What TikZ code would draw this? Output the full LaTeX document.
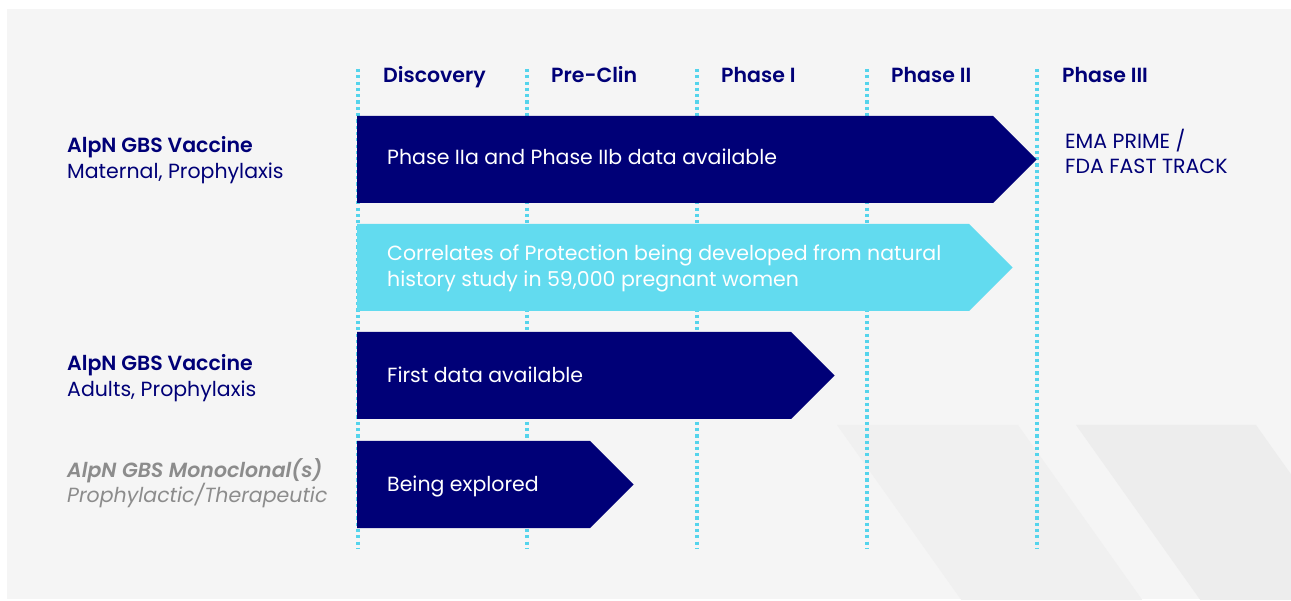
\documentclass[tikz,border=0pt]{standalone}
\usepackage{fontspec}
\setmainfont{Poppins}[BoldFont={Poppins SemiBold},BoldItalicFont={Poppins SemiBold Italic}]
\definecolor{navy}{HTML}{000077}
\definecolor{sky}{HTML}{62DBEF}
\definecolor{panel}{HTML}{F5F5F5}
\definecolor{shadeA}{HTML}{F0F0F0}
\definecolor{shadeB}{HTML}{EDEDED}
\definecolor{dotline}{HTML}{55D4EC}
\definecolor{mutegray}{HTML}{8C8C8C}
% pipeline bar with a pointed end: fill, left x, right x of body, top, bottom
\newcommand\arrowbar[5]{%
  \fill[#1] (#2,#4) -- (#3,#4) -- ({#3+(#5-#4)/2},{(#4+#5)/2}) -- (#3,#5) -- (#2,#5) -- cycle;}
\begin{document}
\begin{tikzpicture}[x=1pt,y=-1pt,
  hdr/.style={anchor=base west, inner sep=0pt, text=navy, font=\fontsize{20.5}{20.5}\selectfont\bfseries},
  lbl/.style={anchor=base west, inner sep=0pt, text=navy, font=\fontsize{20.5}{20.5}\selectfont},
  lblb/.style={lbl, font=\fontsize{20.5}{20.5}\selectfont\bfseries},
  mute/.style={lbl, text=mutegray, font=\fontsize{20.5}{20.5}\selectfont\itshape},
  muteb/.style={lbl, text=mutegray, font=\fontsize{20.5}{20.5}\selectfont\bfseries\itshape},
  bartext/.style={anchor=base west, inner sep=0pt, text=white, font=\fontsize{20.5}{20.5}\selectfont},
  gridline/.style={dotline, line width=3.2pt, dash pattern=on 3.2pt off 3.1pt}]
\useasboundingbox (0,0) rectangle (1291,601);
% backdrop panel and faint diagonal bands
\fill[panel] (7,9) rectangle (1291,599);
\begin{scope}
  \clip (7,9) rectangle (1291,599);
  \fill[shadeA] (837,425) -- (1018,425) -- (1143,601) -- (962,601) -- cycle;
  \fill[shadeB] (1076,425) -- (1256,425) -- (1381,601) -- (1201,601) -- cycle;
\end{scope}
% stage separators
\foreach \x in {358,527,697,867,1037}
  \draw[gridline] (\x,69) -- (\x,548);
% stage headings
\node[hdr] (hdisc) at (383,83) {Discovery};
\node[hdr] (hpre)  at (551,83) {Pre-Clin};
\node[hdr] (hp1)   at (721,83) {Phase I};
\node[hdr] (hp2)   at (891,83) {Phase II};
\node[hdr] (hp3)   at (1062,83) {Phase III};
% programme bars
\arrowbar{navy}{357}{993}{116}{203}
\arrowbar{sky}{357}{969}{224}{311}
\arrowbar{navy}{357}{791}{332}{419}
\arrowbar{navy}{357}{590}{441}{528}
\node[bartext] (t1)  at (387,165) {Phase IIa and Phase IIb data available};
\node[bartext] (t2a) at (387,261) {Correlates of Protection being developed from natural};
\node[bartext] (t2b) at (387,287) {history study in 59,000 pregnant women};
\node[bartext] (t3)  at (387,383) {First data available};
\node[bartext] (t4)  at (387,492) {Being explored};
% programme names
\node[lblb] (p1a) at (67,153) {AlpN GBS Vaccine};
\node[lbl]  (p1b) at (67,179) {Maternal, Prophylaxis};
\node[lblb] (p3a) at (67,371) {AlpN GBS Vaccine};
\node[lbl]  (p3b) at (67,397) {Adults, Prophylaxis};
\node[muteb] (p4a) at (67,478) {AlpN GBS Monoclonal(s)};
\node[mute]  (p4b) at (67,503) {Prophylactic/Therapeutic};
% regulatory designations
\node[lbl] (reg1) at (1065,149) {EMA PRIME /};
\node[lbl] (reg2) at (1065,174) {FDA FAST TRACK};
\end{tikzpicture}
\end{document}
